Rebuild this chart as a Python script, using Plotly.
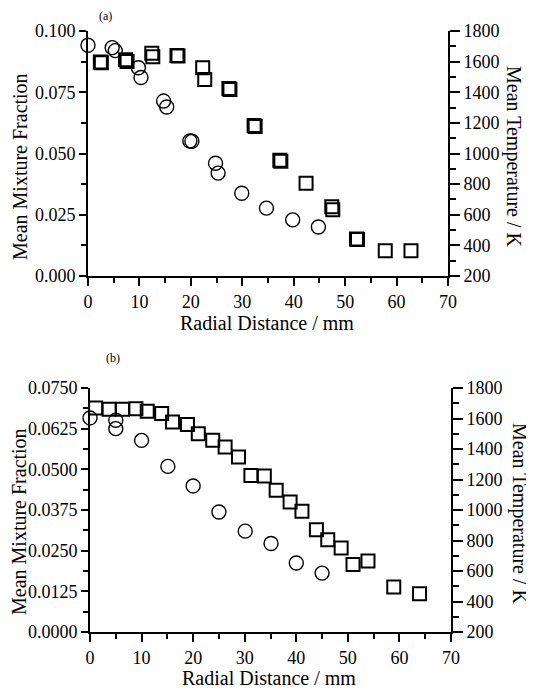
import plotly.graph_objects as go
from plotly.subplots import make_subplots

# page body has an 8px margin: draw a figure 8px smaller and shift coordinates
OFF = 8
W, H = 534 - OFF, 691 - OFF

# ---- Panel (a) data ----
a_r_mf = [0.0, 4.7, 5.3, 9.8, 10.3, 14.7, 15.3, 19.8, 20.2, 24.8, 25.3, 29.9, 34.7, 39.8, 44.8]
a_mf = [0.0942, 0.0932, 0.0920, 0.0850, 0.0810, 0.0714, 0.0690, 0.0551, 0.0550, 0.0460, 0.0420, 0.0338, 0.0277, 0.0229, 0.0200]
a_r_T = [2.4, 2.6, 7.3, 7.6, 12.4, 12.6, 17.3, 17.5, 22.3, 22.7, 27.4, 27.6, 32.3, 32.5, 37.3, 37.5, 42.4, 47.4, 47.6, 52.2, 52.4, 57.8, 62.8]
a_T = [1598, 1592, 1612, 1600, 1654, 1632, 1640, 1636, 1560, 1484, 1424, 1418, 1183, 1177, 956, 950, 805, 652, 633, 442, 438, 365, 365]

# ---- Panel (b) data ----
b_r_mf = [0.0, 5.0, 5.0, 10.0, 15.1, 20.0, 25.0, 30.1, 35.1, 40.0, 45.0]
b_mf = [0.0658, 0.0651, 0.0625, 0.0589, 0.0509, 0.0449, 0.0369, 0.0310, 0.0272, 0.0212, 0.0181]
b_r_T = [1.1, 3.7, 6.3, 8.9, 11.1, 13.9, 16.0, 18.9, 21.0, 23.8, 26.2, 28.8, 31.2, 33.8, 36.1, 38.8, 41.1, 43.9, 46.1, 48.7, 51.0, 53.9, 58.9, 63.9]
b_T = [1669, 1660, 1660, 1664, 1647, 1632, 1577, 1560, 1500, 1457, 1413, 1348, 1227, 1223, 1129, 1052, 991, 871, 805, 751, 642, 665, 495, 451]

a_mf_ticks = [0.000, 0.025, 0.050, 0.075, 0.100]
b_mf_ticks = [0.0, 0.0125, 0.025, 0.0375, 0.05, 0.0625, 0.075]
T_ticks = [200, 400, 600, 800, 1000, 1200, 1400, 1600, 1800]
x_ticks = [0, 10, 20, 30, 40, 50, 60, 70]

FONT = "Liberation Serif"


def px(x):
    return (x - OFF) / W


def py(y):
    return 1 - (y - OFF) / H


fig = make_subplots(rows=2, cols=1, specs=[[{"secondary_y": True}], [{"secondary_y": True}]])

circ = dict(symbol="circle-open", size=14, color="black", line=dict(width=1.4, color="black"))
sq = dict(symbol="square-open", size=13, color="black", line=dict(width=2, color="black"))

fig.add_trace(go.Scatter(x=a_r_mf, y=a_mf, mode="markers", marker=circ, cliponaxis=False), row=1, col=1, secondary_y=False)
fig.add_trace(go.Scatter(x=a_r_T, y=a_T, mode="markers", marker=sq, cliponaxis=False), row=1, col=1, secondary_y=True)
fig.add_trace(go.Scatter(x=b_r_mf, y=b_mf, mode="markers", marker=circ, cliponaxis=False), row=2, col=1, secondary_y=False)
fig.add_trace(go.Scatter(x=b_r_T, y=b_T, mode="markers", marker=sq, cliponaxis=False), row=2, col=1, secondary_y=True)

tickfont = dict(family=FONT, size=18, color="black")
common = dict(showgrid=False, zeroline=False, showline=True, linecolor="black", linewidth=2, automargin=False,
              ticks="outside", tickwidth=1.5, tickcolor="black", tickfont=tickfont)

# domains
a_dom_x = [px(88), px(448)]
a_dom_y = [py(276), py(31)]
b_dom_x = [px(90), px(451)]
b_dom_y = [py(632), py(388)]


def mn(d, L):
    return dict(dtick=d, ticklen=L, tickwidth=1.5, tickcolor="black", ticks="outside")


fig.update_layout(
    xaxis=dict(domain=a_dom_x, range=[0, 70], tickvals=x_ticks, ticklen=8, minor=mn(5, 5), anchor="y", **common),
    yaxis=dict(domain=a_dom_y, range=[0, 0.1], tickvals=a_mf_ticks, tickformat=".3f", ticklen=7,
               minor=mn(0.0125, 5), anchor="x", **common),
    yaxis2=dict(domain=a_dom_y, range=[200, 1800], tickvals=T_ticks, side="right", overlaying="y", anchor="x",
                ticklen=10, minor=mn(100, 6), **common),
    xaxis2=dict(domain=b_dom_x, range=[0, 70], tickvals=x_ticks, ticklen=8, minor=mn(5, 5), anchor="y3", **common),
    yaxis3=dict(domain=b_dom_y, range=[0, 0.075], tickvals=b_mf_ticks, tickformat=".4f", ticklen=7,
                minor=mn(0.00625, 5), anchor="x2", **common),
    yaxis4=dict(domain=b_dom_y, range=[200, 1800], tickvals=T_ticks, side="right", overlaying="y3", anchor="x2",
                ticklen=10, minor=mn(100, 6), **common),
    width=W, height=H, margin=dict(l=0, r=0, t=0, b=0),
    paper_bgcolor="white", plot_bgcolor="white", showlegend=False,
    font=dict(family=FONT, color="black"),
)

titlefont = dict(family=FONT, size=20, color="black")
ann = [
    dict(text="(a)", x=px(105), y=py(16), font=dict(family=FONT, size=12, color="black")),
    dict(text="(b)", x=px(113), y=py(358), font=dict(family=FONT, size=12, color="black")),
    dict(text="Mean Mixture Fraction", x=px(20), y=py(167), textangle=-90, font=titlefont),
    dict(text="Mean Temperature / K", x=px(514), y=py(156), textangle=90, font=titlefont),
    dict(text="Radial Distance / mm", x=px(267), y=py(323), font=titlefont),
    dict(text="Mean Mixture Fraction", x=px(19), y=py(522), textangle=-90, font=titlefont),
    dict(text="Mean Temperature / K", x=px(520), y=py(513), textangle=90, font=titlefont),
    dict(text="Radial Distance / mm", x=px(269), y=py(678), font=titlefont),
]
for a in ann:
    a.update(xref="paper", yref="paper", showarrow=False, xanchor="center", yanchor="middle")
fig.update_layout(annotations=ann)

fig.write_html("out.html")
